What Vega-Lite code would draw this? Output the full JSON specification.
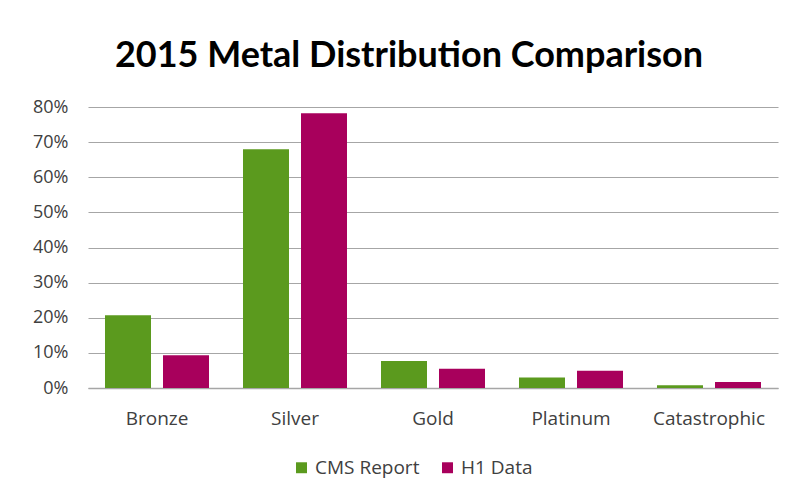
{
  "$schema": "https://vega.github.io/schema/vega-lite/v6.json",
  "width": 690,
  "height": 281,
  "autosize": "none",
  "padding": {"left": 88, "top": 107, "right": 20, "bottom": 108},
  "background": "white",
  "config": {"view": {"stroke": null}},
  "title": {
    "text": "2015 Metal Distribution Comparison",
    "font": "Lato",
    "fontSize": 36,
    "fontWeight": "bold",
    "color": "#000000",
    "anchor": "middle",
    "frame": "group",
    "baseline": "alphabetic",
    "offset": -5,
    "dx": -24
  },
  "data": {
    "values": [
      {"category": "Bronze", "series": "CMS Report", "value": 0.207},
      {"category": "Bronze", "series": "H1 Data", "value": 0.093},
      {"category": "Silver", "series": "CMS Report", "value": 0.68},
      {"category": "Silver", "series": "H1 Data", "value": 0.782},
      {"category": "Gold", "series": "CMS Report", "value": 0.077},
      {"category": "Gold", "series": "H1 Data", "value": 0.055},
      {"category": "Platinum", "series": "CMS Report", "value": 0.03},
      {"category": "Platinum", "series": "H1 Data", "value": 0.049},
      {"category": "Catastrophic", "series": "CMS Report", "value": 0.008},
      {"category": "Catastrophic", "series": "H1 Data", "value": 0.017}
    ]
  },
  "mark": {"type": "bar"},
  "encoding": {
    "x": {
      "field": "category",
      "type": "nominal",
      "sort": ["Bronze", "Silver", "Gold", "Platinum", "Catastrophic"],
      "scale": {"paddingInner": 0, "paddingOuter": 0},
      "axis": {
        "title": null,
        "labelAngle": 0,
        "labelFont": "Open Sans",
        "labelFontSize": 19,
        "labelColor": "#404040",
        "labelPadding": 21,
        "ticks": false,
        "domain": true,
        "domainColor": "#a6a6a6",
        "domainWidth": 1.5,
        "grid": false
      }
    },
    "xOffset": {
      "field": "series",
      "type": "nominal",
      "sort": ["CMS Report", "H1 Data"],
      "scale": {"paddingInner": 0.207, "paddingOuter": 0.293}
    },
    "y": {
      "field": "value",
      "type": "quantitative",
      "scale": {"domain": [0, 0.8], "nice": false},
      "axis": {
        "title": null,
        "format": ".0%",
        "values": [0, 0.1, 0.2, 0.3, 0.4, 0.5, 0.6, 0.7, 0.8],
        "labelFont": "Open Sans",
        "labelFontSize": 18,
        "labelColor": "#404040",
        "labelPadding": 20,
        "ticks": false,
        "domain": false,
        "grid": true,
        "gridColor": "#a6a6a6",
        "gridWidth": 1.2
      }
    },
    "color": {
      "field": "series",
      "type": "nominal",
      "sort": ["CMS Report", "H1 Data"],
      "scale": {"domain": ["CMS Report", "H1 Data"], "range": ["#5B9A1E", "#A8005C"]},
      "legend": {
        "title": null,
        "orient": "none",
        "direction": "horizontal",
        "legendX": 204,
        "legendY": 351,
        "symbolType": "square",
        "symbolSize": 120,
        "symbolStrokeWidth": 0,
        "labelFont": "Open Sans",
        "labelFontSize": 19,
        "labelColor": "#404040",
        "labelOffset": 4,
        "columnPadding": 18
      }
    }
  }
}
